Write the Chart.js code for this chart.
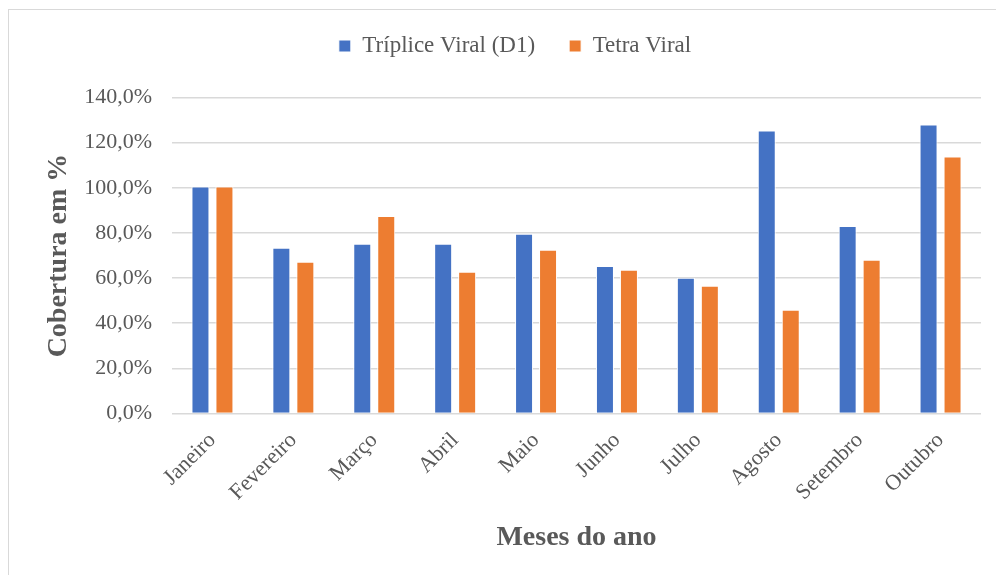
<!DOCTYPE html>
<html lang="pt">

<head>
    <meta charset="UTF-8">
    <title>Cobertura vacinal</title>
    <style>
        body { margin: 0; overflow: hidden; background: #fff; }
        #frame { position: absolute; left: 8px; top: 9px; width: 1100px; height: 700px; border: 1.5px solid #d9d9d9; }
        #box { position: absolute; left: 0; top: 0; width: 1030px; height: 575px; }
    </style>
</head>

<body>
    <div id="frame"></div>
    <div id="box">
        <canvas id="myChart"></canvas>
    </div>

    <script src="https://cdn.jsdelivr.net/npm/chart.js"></script>
    <script>
        const v_labels = ["Janeiro", "Fevereiro", "Março", "Abril", "Maio", "Junho", "Julho", "Agosto", "Setembro", "Outubro"];
        const v_triplice = [100.6, 73.4, 75.2, 75.2, 79.6, 65.4, 60.1, 125.4, 83.1, 128.0];
        const v_tetra = [100.6, 67.2, 87.5, 62.8, 72.5, 63.7, 56.6, 46.0, 68.1, 113.9];
        const v_ticks = [0, 20, 40, 60, 80, 100, 120, 140];

        const v_gray = "#595959";
        const v_font = "'Liberation Serif', serif";

        // push the plot down a bit under the legend
        const legendSpace = {
            id: "legendSpace",
            beforeInit(chart) {
                const fit = chart.legend.fit;
                chart.legend.fit = function () {
                    fit.bind(chart.legend)();
                    this.height += 30;
                };
            }
        };

        const ctx = document.querySelector("#myChart");

        new Chart(ctx, {
            type: "bar",
            data: {
                labels: v_labels,
                datasets: [
                    { label: "Tríplice Viral (D1)", data: v_triplice, backgroundColor: "#4472C4", borderColor: "#ffffff", borderWidth: 1 },
                    { label: "Tetra Viral", data: v_tetra, backgroundColor: "#ED7D31", borderColor: "#ffffff", borderWidth: 1 }
                ]
            },
            options: {
                responsive: true,
                maintainAspectRatio: false,
                animation: false,
                categoryPercentage: 0.593,
                barPercentage: 0.75,
                layout: { padding: { top: 0.5, right: 49, left: 49, bottom: 0 } },
                plugins: {
                    tooltip: { enabled: false },
                    legend: {
                        position: "top",
                        labels: {
                            boxWidth: 12, boxHeight: 12, padding: 34,
                            color: v_gray,
                            font: { family: v_font, size: 23 }
                        }
                    }
                },
                scales: {
                    y: {
                        min: 0, max: 140,
                        afterFit(scale) { scale.width = 123; },
                        afterBuildTicks(scale) { scale.ticks = v_ticks.map(v => ({ value: v })); },
                        border: { display: false },
                        grid: { color: "#d9d9d9", lineWidth: 1.5, drawTicks: false },
                        ticks: {
                            padding: 20,
                            color: v_gray,
                            font: { family: v_font, size: 22 },
                            callback: v => v.toFixed(1).replace(".", ",") + "%"
                        },
                        title: {
                            display: true, text: "Cobertura em %",
                            color: v_gray,
                            padding: { top: -7, bottom: 0 },
                            font: { family: v_font, size: 28, weight: "bold" }
                        }
                    },
                    x: {
                        afterFit(scale) { scale.height = 575 - 413.5; },
                        border: { display: false },
                        grid: { display: false, drawTicks: false },
                        ticks: {
                            minRotation: 45, maxRotation: 45,
                            padding: 14,
                            color: v_gray,
                            font: { family: v_font, size: 22 }
                        },
                        title: {
                            display: true, text: "Meses do ano",
                            color: v_gray,
                            padding: { top: 0, bottom: 20 },
                            font: { family: v_font, size: 28, weight: "bold" }
                        }
                    }
                }
            },
            plugins: [legendSpace]
        });
    </script>
</body>

</html>
